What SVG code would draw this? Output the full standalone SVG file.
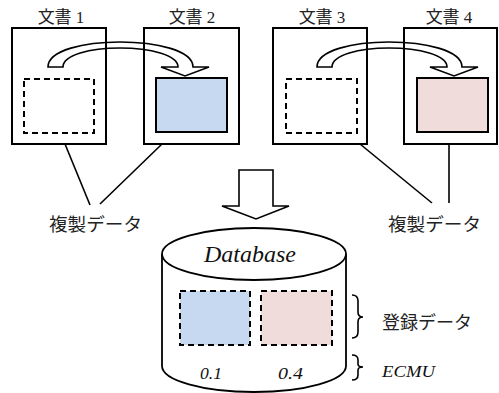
<svg xmlns="http://www.w3.org/2000/svg" width="499" height="393" viewBox="0 0 499 393">
<defs>
<style>
.doc{fill:#fff;stroke:#000;stroke-width:2}
.dash{stroke:#000;stroke-width:2;stroke-dasharray:6 4}
.ln{fill:none;stroke:#000;stroke-width:1.6}
.arc{fill:none;stroke:#000;stroke-width:1.6;stroke-linejoin:miter}
.jp{font-family:"Liberation Serif","Noto Sans CJK JP",serif;font-size:17px;fill:#222}
.it{font-family:"Liberation Serif",serif;font-style:italic;fill:#111}
</style>
<path id="curv" d="M48,67 C48,50 85,42 120,42 C155,42 193,50 193,67 L209,67 L185,76 L161,67 L178,67 C178,55 150,48 120,48 C90,48 63,55 63,67 Z"/>
</defs>
<rect width="499" height="393" fill="#fff"/>

<g id="doc1">
<rect class="doc" x="12" y="28" width="94" height="116"/>
<rect class="dash" x="24" y="79" width="70" height="54" fill="#fff"/>
<text class="jp" x="61" y="23" text-anchor="middle">文書 1</text>
</g>
<g id="doc2">
<rect class="doc" x="144" y="28" width="95" height="116"/>
<rect x="156" y="78" width="71" height="54" fill="#c6d9f0" stroke="#000" stroke-width="2"/>
<text class="jp" x="192" y="23" text-anchor="middle">文書 2</text>
</g>
<g id="doc3">
<rect class="doc" x="273" y="28" width="94" height="116"/>
<rect class="dash" x="286" y="79" width="71" height="54" fill="#fff"/>
<text class="jp" x="322" y="23" text-anchor="middle">文書 3</text>
</g>
<g id="doc4">
<rect class="doc" x="404" y="28" width="93" height="116"/>
<rect x="417" y="78" width="71" height="54" fill="#f0dcdb" stroke="#000" stroke-width="2"/>
<text class="jp" x="449" y="23" text-anchor="middle">文書 4</text>
</g>

<g id="connectors">
<use href="#curv" class="arc"/>
<use href="#curv" class="arc" transform="translate(269,0)"/>
<line class="ln" x1="65" y1="144" x2="90" y2="205"/>
<line class="ln" x1="162" y1="144" x2="100" y2="204"/>
<line class="ln" x1="360" y1="144" x2="432" y2="203"/>
<line class="ln" x1="449" y1="144" x2="449" y2="203"/>
<path d="M239,170 L273,170 L273,206 L289,206 L256,219 L222,206 L239,206 Z" fill="#fff" stroke="#000" stroke-width="1.6"/>
<path class="ln" d="M352,295 Q358,295 358,301 L358,312 Q358,317 363,317 Q358,317 358,322 L358,332 Q358,338 352,338"/>
<path class="ln" d="M352,355 Q358,355 358,360 L358,364 Q358,367 363,367 Q358,367 358,370 L358,375 Q358,380 352,380"/>
</g>

<g id="label-left">
<text class="jp" x="49" y="231" style="font-size:18px" textLength="93" lengthAdjust="spacingAndGlyphs">複製データ</text>
</g>
<g id="label-right">
<text class="jp" x="388" y="231" style="font-size:18px" textLength="93" lengthAdjust="spacingAndGlyphs">複製データ</text>
</g>

<g id="database">
<path d="M162,254 L162,366 A92,26 0 0 0 346,366 L346,254" fill="#fff" stroke="#000" stroke-width="1.8"/>
<ellipse cx="254" cy="254" rx="92" ry="26" fill="#fff" stroke="#000" stroke-width="1.8"/>
<text class="it" x="204" y="262" style="font-size:23px" textLength="92" lengthAdjust="spacingAndGlyphs">Database</text>
<rect class="dash" x="180" y="291" width="70" height="54" fill="#c6d9f0"/>
<rect class="dash" x="261" y="291" width="71" height="54" fill="#f0dcdb"/>
<text class="it" x="200" y="379" style="font-size:17px" textLength="22" lengthAdjust="spacingAndGlyphs">0.1</text>
<text class="it" x="278" y="379" style="font-size:17px" textLength="25" lengthAdjust="spacingAndGlyphs">0.4</text>
</g>

<g id="label-reg">
<text class="jp" x="382" y="329" style="font-size:18px" textLength="90" lengthAdjust="spacingAndGlyphs">登録データ</text>
</g>
<g id="label-ecmu">
<text class="it" x="382" y="377" style="font-size:16px" textLength="53" lengthAdjust="spacingAndGlyphs">ECMU</text>
</g>
</svg>
